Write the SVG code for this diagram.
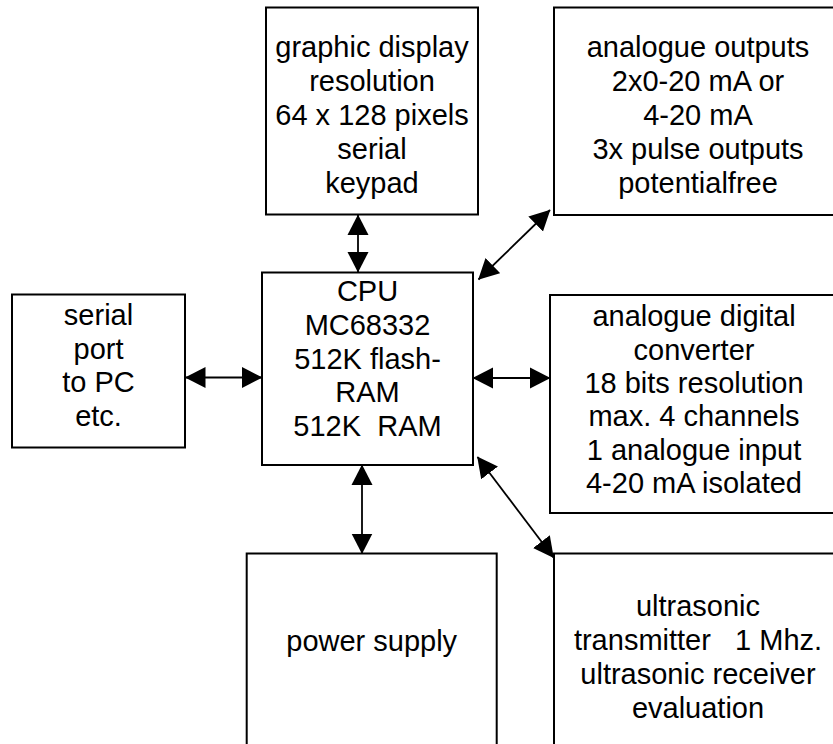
<svg xmlns="http://www.w3.org/2000/svg" width="833" height="744" viewBox="0 0 833 744">
<style>
.box{fill:#fff;stroke:#000;stroke-width:2}
.t{font-family:"Liberation Sans",Arial,sans-serif;font-size:29px;fill:#000;text-anchor:middle;white-space:pre}
.c{fill:none;stroke:#000;stroke-width:1.8}
</style>
<defs>
<marker id="ah" markerUnits="userSpaceOnUse" markerWidth="22" markerHeight="22" refX="20" refY="11" orient="auto-start-reverse" viewBox="0 0 22 22">
<path d="M0,0.5 L20.5,11 L0,21.5 Z" fill="#000"/>
</marker>
</defs>
<rect width="833" height="744" fill="#fff"/>
<g id="graphic-display">
<rect class="box" x="266" y="7.5" width="212" height="207"/>
<text class="t" x="372" y="57">graphic display</text>
<text class="t" x="372" y="91">resolution</text>
<text class="t" x="372" y="125">64 x 128 pixels</text>
<text class="t" x="372" y="159">serial</text>
<text class="t" x="372" y="193">keypad</text>
</g>
<g id="analogue-outputs">
<rect class="box" x="554" y="7.5" width="300" height="207.5"/>
<text class="t" x="698" y="57">analogue outputs</text>
<text class="t" x="698" y="91">2x0-20 mA or</text>
<text class="t" x="698" y="125">4-20 mA</text>
<text class="t" x="698" y="159">3x pulse outputs</text>
<text class="t" x="698" y="193">potentialfree</text>
</g>
<g id="serial-port">
<rect class="box" x="12" y="294.5" width="173" height="153"/>
<text class="t" x="98.5" y="325">serial</text>
<text class="t" x="98.5" y="358.5">port</text>
<text class="t" x="98.5" y="392">to PC</text>
<text class="t" x="98.5" y="425.5">etc.</text>
</g>
<g id="cpu">
<rect class="box" x="262" y="272.5" width="211" height="192.5"/>
<text class="t" x="367.5" y="301">CPU</text>
<text class="t" x="367.5" y="334.5">MC68332</text>
<text class="t" x="367.5" y="368.5">512K flash-</text>
<text class="t" x="367.5" y="402">RAM</text>
<text class="t" x="367.5" y="435.5">512K  RAM</text>
</g>
<g id="adc">
<rect class="box" x="550" y="295" width="300" height="218"/>
<text class="t" x="694" y="326">analogue digital</text>
<text class="t" x="694" y="359.5">converter</text>
<text class="t" x="694" y="393">18 bits resolution</text>
<text class="t" x="694" y="426">max. 4 channels</text>
<text class="t" x="694" y="459.5">1 analogue input</text>
<text class="t" x="694" y="493">4-20 mA isolated</text>
</g>
<g id="power-supply">
<rect class="box" x="246.7" y="553.5" width="250" height="220"/>
<text class="t" x="371.7" y="650.5">power supply</text>
</g>
<g id="ultrasonic">
<rect class="box" x="554" y="553.5" width="300" height="220"/>
<text class="t" x="698" y="616">ultrasonic</text>
<text class="t" x="698" y="650">transmitter   1 Mhz.</text>
<text class="t" x="698" y="684">ultrasonic receiver</text>
<text class="t" x="698" y="717.5">evaluation</text>
</g>
<g id="connectors">
<line class="c" x1="358" y1="215" x2="358" y2="272" marker-start="url(#ah)" marker-end="url(#ah)"/>
<line class="c" x1="185.5" y1="377.5" x2="262" y2="377.5" marker-start="url(#ah)" marker-end="url(#ah)"/>
<line class="c" x1="473" y1="378" x2="550" y2="378" marker-start="url(#ah)" marker-end="url(#ah)"/>
<line class="c" x1="362" y1="465" x2="362" y2="553.5" marker-start="url(#ah)" marker-end="url(#ah)"/>
<line class="c" x1="478.5" y1="279.5" x2="550" y2="210" marker-start="url(#ah)" marker-end="url(#ah)"/>
<line class="c" x1="477.5" y1="457" x2="553.5" y2="557.5" marker-start="url(#ah)" marker-end="url(#ah)"/>
</g>
</svg>
